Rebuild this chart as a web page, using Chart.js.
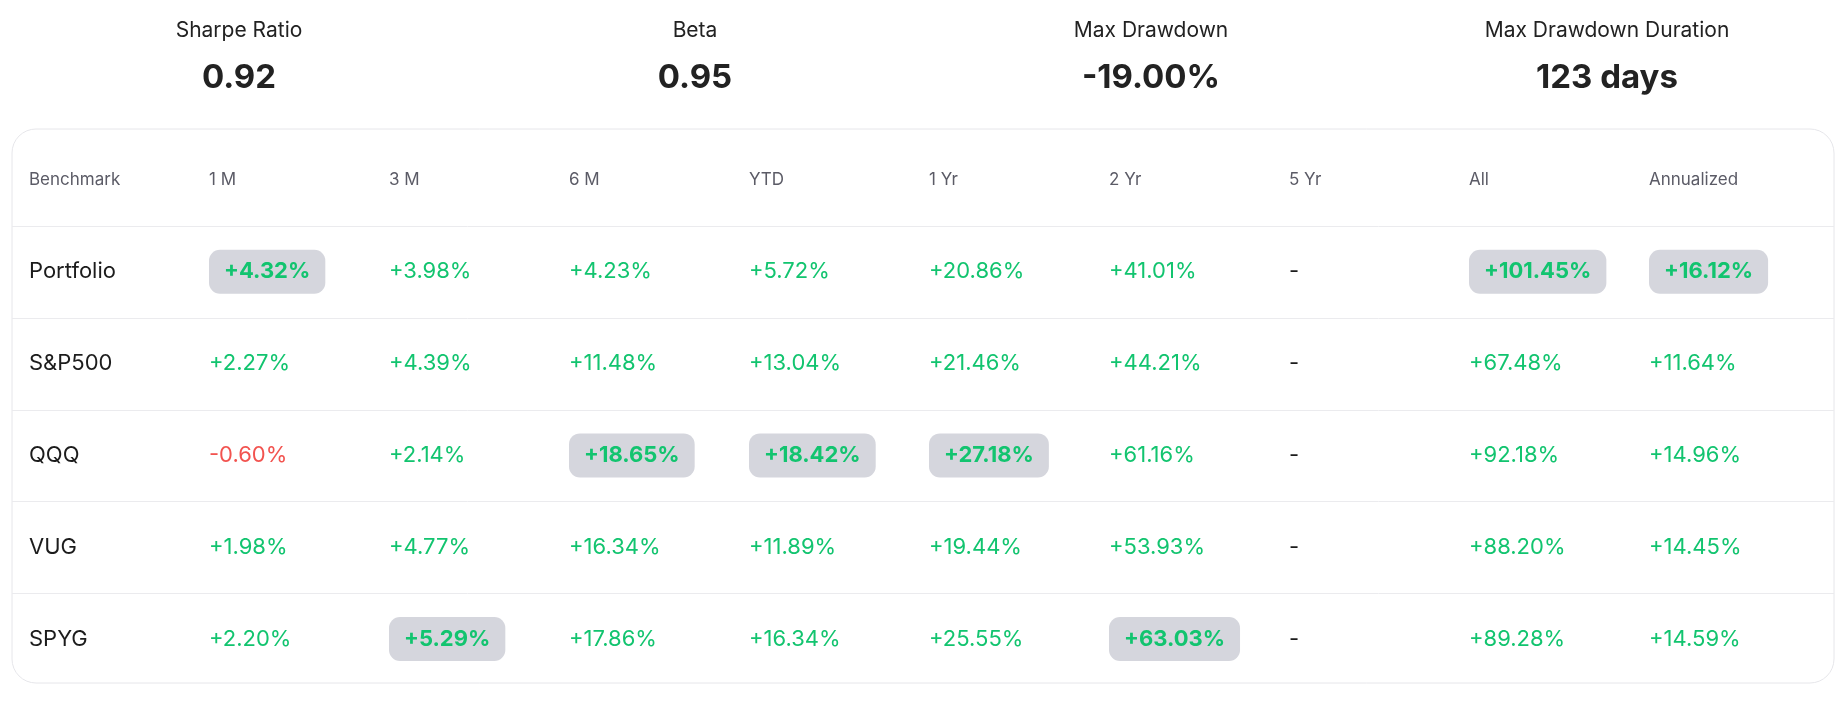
<!DOCTYPE html>
<html lang="en">
<head>
<meta charset="UTF-8">
<title>Benchmarks</title>
<script src="https://cdn.jsdelivr.net/npm/chart.js@4"></script>
<style>
  html, body { margin: 0; background: #fff; }
  #wrap { width: 1846px; height: 703px; position: relative; }
</style>
</head>
<body>
<div id="wrap"><canvas id="tbl"></canvas></div>
<script>
// summary stats at the top
var statLabels = ['Sharpe Ratio', 'Beta', 'Max Drawdown', 'Max Drawdown Duration'];
var statValues = ['0.92', '0.95', '-19.00%', '123 days'];

// table
var columns = ['Benchmark', '1 M', '3 M', '6 M', 'YTD', '1 Yr', '2 Yr', '5 Yr', 'All', 'Annualized'];
var benchmarks = ['Portfolio', 'S&P500', 'QQQ', 'VUG', 'SPYG'];
var portfolio = [4.32, 3.98, 4.23, 5.72, 20.86, 41.01, null, 101.45, 16.12];
var sp500     = [2.27, 4.39, 11.48, 13.04, 21.46, 44.21, null, 67.48, 11.64];
var qqq       = [-0.60, 2.14, 18.65, 18.42, 27.18, 61.16, null, 92.18, 14.96];
var vug       = [1.98, 4.77, 16.34, 11.89, 19.44, 53.93, null, 88.20, 14.45];
var spyg      = [2.20, 5.29, 17.86, 16.34, 25.55, 63.03, null, 89.28, 14.59];
var rows = [portfolio, sp500, qqq, vug, spyg];

var rowCats = ['header'].concat(benchmarks);

function fmt(v) {
  if (v === null) return '-';
  return (v >= 0 ? '+' : '') + v.toFixed(2) + '%';
}
function rr(ctx, x, y, w, h, r) {
  ctx.beginPath();
  ctx.moveTo(x + r, y);
  ctx.arcTo(x + w, y, x + w, y + h, r);
  ctx.arcTo(x + w, y + h, x, y + h, r);
  ctx.arcTo(x, y + h, x, y, r);
  ctx.arcTo(x, y, x + w, y, r);
  ctx.closePath();
}

var tablePlugin = {
  id: 'tablePlugin',
  beforeDatasetsDraw: function(chart) {
    var ctx = chart.ctx;
    var xs = chart.scales.x, ys = chart.scales.y;
    ctx.save();

    // stats
    ctx.textAlign = 'center';
    ctx.textBaseline = 'middle';
    statLabels.forEach(function(l, i) {
      var cx = 239 + i * 456;
      ctx.fillStyle = '#222';
      ctx.font = '21px Inter';
      ctx.fillText(l, cx, 31);
      ctx.font = 'bold 33px Inter';
      ctx.fillText(statValues[i], cx, 78);
    });

    // card
    rr(ctx, 12, 129, 1822, 554, 24);
    ctx.strokeStyle = '#e6e6ea';
    ctx.lineWidth = 1;
    ctx.stroke();

    // row separators
    ctx.strokeStyle = '#ebebee';
    for (var r = 0; r < rowCats.length - 1; r++) {
      var yy = (ys.getPixelForValue(r) + ys.getPixelForValue(r + 1)) / 2;
      ctx.beginPath();
      ctx.moveTo(12, Math.round(yy) + 0.5);
      ctx.lineTo(1834, Math.round(yy) + 0.5);
      ctx.stroke();
    }

    // header
    ctx.textAlign = 'left';
    ctx.font = '17px Inter';
    ctx.fillStyle = '#5b5b66';
    columns.forEach(function(c, i) {
      ctx.fillText(c, xs.getPixelForValue(i), ys.getPixelForValue(0));
    });

    // max per column for highlight
    var maxes = [];
    for (var c = 0; c < columns.length - 1; c++) {
      var m = null;
      rows.forEach(function(row) { if (row[c] !== null && (m === null || row[c] > m)) m = row[c]; });
      maxes.push(m);
    }

    rows.forEach(function(row, ri) {
      var y = ys.getPixelForValue(ri + 1);
      ctx.font = '22px Inter';
      ctx.fillStyle = '#1c1c1c';
      ctx.fillText(benchmarks[ri], xs.getPixelForValue(0), y);
      row.forEach(function(v, ci) {
        var x = xs.getPixelForValue(ci + 1);
        var txt = fmt(v);
        if (v === null) {
          ctx.font = '22px Inter';
          ctx.fillStyle = '#1c1c1c';
          ctx.fillText(txt, x, y);
          return;
        }
        var hi = v === maxes[ci];
        ctx.font = (hi ? 'bold ' : '') + '22px Inter';
        if (hi) {
          var w = ctx.measureText(txt).width;
          ctx.fillStyle = '#d5d6dd';
          rr(ctx, x, y - 22, w + 30, 44, 11);
          ctx.fill();
          x += 15;
        }
        ctx.fillStyle = v < 0 ? '#f2534f' : '#12c46f';
        ctx.fillText(txt, x, y);
      });
    });
    ctx.restore();
  }
};

new Chart(document.getElementById('tbl'), {
  type: 'scatter',
  data: { datasets: [{ data: [], pointRadius: 0 }] },
  options: {
    responsive: true,
    maintainAspectRatio: false,
    animation: false,
    events: [],
    layout: { padding: { left: 29, right: 197, top: 180, bottom: 64 } },
    plugins: { legend: { display: false }, tooltip: { enabled: false } },
    scales: {
      x: { type: 'category', labels: columns, offset: false, display: false },
      y: { type: 'category', labels: rowCats, offset: false, display: false }
    }
  },
  plugins: [tablePlugin]
});
</script>
</body>
</html>
